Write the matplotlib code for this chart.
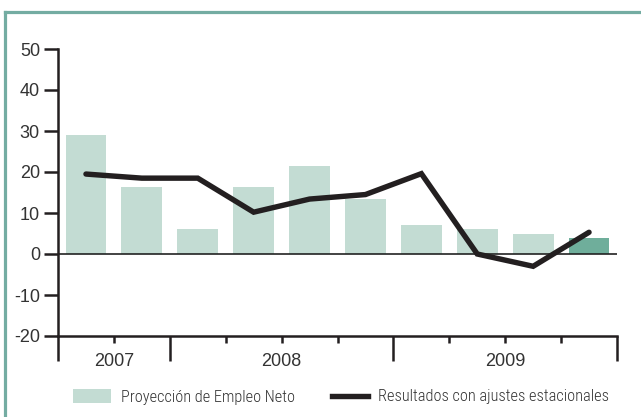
import matplotlib
matplotlib.use("Agg")
import matplotlib.pyplot as plt
import matplotlib.transforms as mtransforms
from matplotlib.patches import Patch
from matplotlib.lines import Line2D
import numpy as np

# Data
quarters = list(range(10))
proyeccion = [29, 16.3, 6, 16.3, 21.5, 13.3, 7, 6, 5, 4]
resultados = [19.5, 18.5, 18.5, 10.2, 13.4, 14.5, 19.6, 0, -3, 5.3]
years = ["2007", "2008", "2009"]
year_spans = [(0, 2), (2, 6), (6, 10)]
yticks = [-20, -10, 0, 10, 20, 30, 40, 50]
legend_labels = ["Proyección de Empleo Neto", "Resultados con ajustes estacionales"]

W, H = 641, 417
fig = plt.figure(figsize=(W / 100, H / 100), dpi=100)
fig.patch.set_facecolor("white")

def fx(px):
    return px / W

def fy(py):
    return 1 - py / H

ax = fig.add_axes([fx(58), fy(336), fx(617) - fx(58), fy(49) - fy(336)])

bar_col = "#c3dcd3"
last_col = "#6fae9b"
frame_col = "#74aca2"
text_col = "#333333"
dark = "#231f20"

colors = [bar_col] * (len(quarters) - 1) + [last_col]
x = np.array(quarters) + 0.5
ax.bar(x, proyeccion, width=0.73, color=colors, zorder=1)
ax.axhline(0, color="#222222", lw=1.2, zorder=2)
ax.plot(x, resultados, color=dark, lw=3.9, zorder=3, solid_capstyle="round",
        solid_joinstyle="miter")

ax.set_xlim(0, 10)
ax.set_ylim(-20, 50)
ax.set_yticks(yticks)
ax.set_yticklabels([str(v) for v in yticks])

for s in ["top", "right"]:
    ax.spines[s].set_visible(False)
for s in ["left", "bottom"]:
    ax.spines[s].set_linewidth(1.8)
    ax.spines[s].set_color(dark)

ax.tick_params(axis="y", length=10, width=1.8, color=dark, labelsize=13,
               labelcolor=text_col, pad=3)

# x ticks: minor at every quarter boundary, major at year boundaries
major_pos = [0, 2, 6, 10]
minor_pos = [p for p in range(11) if p not in major_pos]
ax.set_xticks(major_pos)
ax.set_xticklabels([])
ax.set_xticks(minor_pos, minor=True)
ax.tick_params(axis="x", which="major", length=18, width=1.8, color=dark)
ax.tick_params(axis="x", which="minor", length=5, width=1.8, color=dark)
blend = mtransforms.blended_transform_factory(ax.transData, fig.transFigure)
for lab, (a, b) in zip(years, year_spans):
    ax.text((a + b) / 2, fy(362), lab, transform=blend,
            ha="center", va="center", fontsize=13, color=text_col,
            family="Liberation Sans")

for t in ax.get_yticklabels():
    t.set_family("Liberation Sans")

# Frame (left and top teal lines)
fig.add_artist(Line2D([fx(4.5), fx(4.5)], [0, fy(11.5)], transform=fig.transFigure,
                      color=frame_col, lw=2.3, solid_capstyle="projecting"))
fig.add_artist(Line2D([fx(4.5), 1.0], [fy(11.5), fy(11.5)], transform=fig.transFigure,
                      color=frame_col, lw=2.3, solid_capstyle="projecting"))

# Legends
prop = {"family": ["Roboto Condensed", "Liberation Sans"], "size": 11.8, "weight": "light"}
h1 = [Patch(facecolor=bar_col, edgecolor="none")]
h2 = [Line2D([0], [0], color=dark, lw=3.9)]
leg1 = fig.legend(h1, legend_labels[:1], loc="center left",
                  bbox_to_anchor=(fx(73), fy(397)), frameon=False, borderpad=0,
                  borderaxespad=0, handlelength=2.3, handleheight=0.95,
                  handletextpad=0.6, prop=prop)
leg2 = fig.legend(h2, legend_labels[1:], loc="center left",
                  bbox_to_anchor=(fx(332), fy(397)), frameon=False, borderpad=0,
                  borderaxespad=0, handlelength=2.2, handletextpad=0.6,
                  prop=prop)
for lg in (leg1, leg2):
    for t in lg.get_texts():
        t.set_color(text_col)

fig.savefig("out.png", dpi=100, facecolor="white")
